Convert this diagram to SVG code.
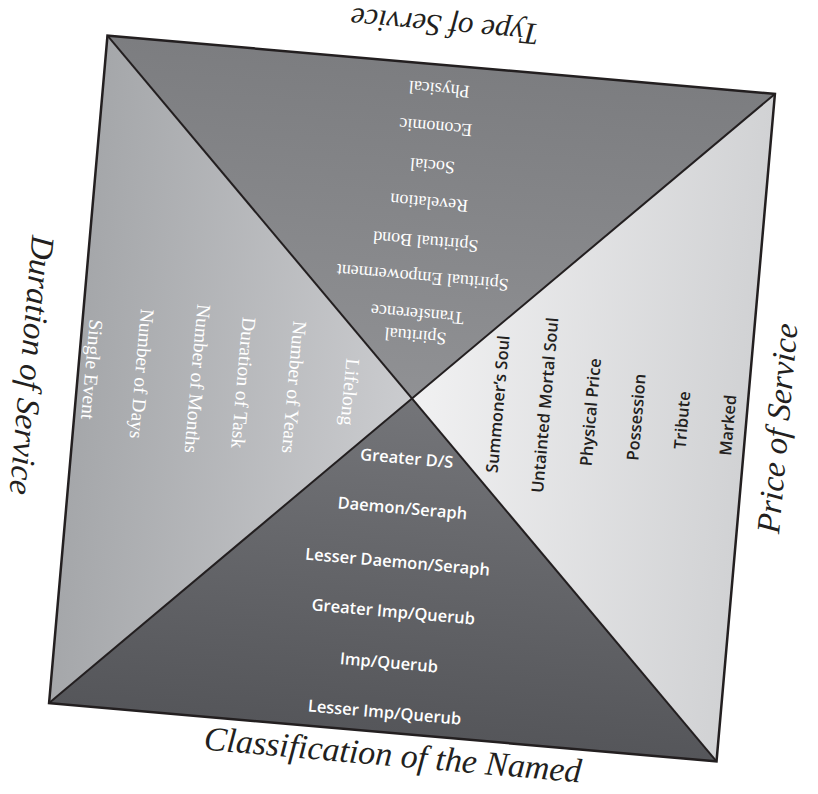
<svg xmlns="http://www.w3.org/2000/svg" width="818" height="794" viewBox="0 0 818 794">
<defs>
<linearGradient id="gTop" gradientUnits="userSpaceOnUse" x1="0" y1="-335" x2="0" y2="0">
<stop offset="0" stop-color="#7c7d80"/><stop offset="1" stop-color="#909194"/>
</linearGradient>
<linearGradient id="gLeft" gradientUnits="userSpaceOnUse" x1="-335" y1="0" x2="0" y2="0">
<stop offset="0" stop-color="#a5a7aa"/><stop offset="1" stop-color="#cbcccf"/>
</linearGradient>
<linearGradient id="gRight" gradientUnits="userSpaceOnUse" x1="335" y1="0" x2="0" y2="0">
<stop offset="0" stop-color="#d1d2d4"/><stop offset="1" stop-color="#f1f1f2"/>
</linearGradient>
<linearGradient id="gBottom" gradientUnits="userSpaceOnUse" x1="0" y1="335" x2="0" y2="0">
<stop offset="0" stop-color="#55565a"/><stop offset="1" stop-color="#747579"/>
</linearGradient>
</defs>
<style>
.serifW{font-family:"Liberation Serif","DejaVu Serif",serif;font-size:18px;fill:#ffffff;text-anchor:middle;}
.serifL{font-size:19.5px;}
.sansD{font-family:"Open Sans","Noto Sans",sans-serif;font-weight:600;font-size:16.5px;fill:#231f20;text-anchor:middle;}
.sansW{font-family:"Open Sans","Noto Sans",sans-serif;font-weight:600;font-size:16.5px;fill:#ffffff;text-anchor:middle;}
.title{font-family:"Liberation Serif","DejaVu Serif",serif;font-style:italic;font-size:33px;fill:#231f20;text-anchor:middle;}
.edge{fill:none;stroke:#231f20;stroke-width:2.5;stroke-linejoin:miter;}
.diag{fill:none;stroke:#231f20;stroke-width:2;}
</style>
<g transform="translate(412,398.5) rotate(5)">
<g id="type-of-service">
<polygon points="-335,-335 335,-335 0,0" fill="url(#gTop)"/>
<text class="title" transform="translate(0,-373) rotate(180)" dy="0.35em" style="font-size:31px">Type of Service</text>
<text class="serifW" transform="translate(0,-310) rotate(180)" dy="0.35em">Physical</text>
<text class="serifW" transform="translate(0,-272) rotate(180)" dy="0.35em">Economic</text>
<text class="serifW" transform="translate(0,-233) rotate(180)" dy="0.35em">Social</text>
<text class="serifW" transform="translate(0,-196) rotate(180)" dy="0.35em">Revelation</text>
<text class="serifW" transform="translate(0,-157) rotate(180)" dy="0.35em">Spiritual Bond</text>
<text class="serifW" transform="translate(0,-121) rotate(180)" dy="0.35em">Spiritual Empowerment</text>
<text class="serifW" transform="translate(-2,-84) rotate(180)" dy="0.35em">Transference</text>
<text class="serifW" transform="translate(-2,-62) rotate(180)" dy="0.35em">Spiritual</text>
</g>
<g id="duration-of-service">
<polygon points="-335,-335 0,0 -335,335" fill="url(#gLeft)"/>
<text class="title" transform="translate(-381,0) rotate(90)" dy="0.35em">Duration of Service</text>
<text class="serifW serifL" transform="translate(-62,-1) rotate(90)" dy="0.35em">Lifelong</text>
<text class="serifW serifL" transform="translate(-118,-1) rotate(90)" dy="0.35em">Number of Years</text>
<text class="serifW serifL" transform="translate(-169,-1) rotate(90)" dy="0.35em">Duration of Task</text>
<text class="serifW serifL" transform="translate(-215,-1) rotate(90)" dy="0.35em">Number of Months</text>
<text class="serifW serifL" transform="translate(-271,-1) rotate(90)" dy="0.35em">Number of Days</text>
<text class="serifW serifL" transform="translate(-321,-1) rotate(90)" dy="0.35em">Single Event</text>
</g>
<g id="price-of-service">
<polygon points="335,-335 335,335 0,0" fill="url(#gRight)"/>
<text class="title" transform="translate(366,-2) rotate(-90)" dy="0.35em">Price of Service</text>
<text class="sansD" transform="translate(86,-2) rotate(-90)" dy="0.35em">Summoner’s Soul</text>
<text class="sansD" transform="translate(133,-5) rotate(-90)" dy="0.35em">Untainted Mortal Soul</text>
<text class="sansD" transform="translate(179,-2) rotate(-90)" dy="0.35em">Physical Price</text>
<text class="sansD" transform="translate(225,-1) rotate(-90)" dy="0.35em">Possession</text>
<text class="sansD" transform="translate(271,-2) rotate(-90)" dy="0.35em">Tribute</text>
<text class="sansD" transform="translate(317,-1) rotate(-90)" dy="0.35em">Marked</text>
</g>
<g id="classification-of-the-named">
<polygon points="-335,335 0,0 335,335" fill="url(#gBottom)"/>
<text class="title" x="12" y="356" dy="0.35em" style="font-size:34px">Classification of the Named</text>
<text class="sansW" x="0" y="60" dy="0.35em">Greater D/S</text>
<text class="sansW" x="0" y="110" dy="0.35em">Daemon/Seraph</text>
<text class="sansW" x="0" y="164" dy="0.35em">Lesser Daemon/Seraph</text>
<text class="sansW" x="0" y="214" dy="0.35em">Greater Imp/Querub</text>
<text class="sansW" x="0" y="265" dy="0.35em">Imp/Querub</text>
<text class="sansW" x="0" y="315" dy="0.35em">Lesser Imp/Querub</text>
</g>
<g id="connectors">
<line class="diag" x1="-335" y1="-335" x2="335" y2="335"/>
<line class="diag" x1="335" y1="-335" x2="-335" y2="335"/>
<rect class="edge" x="-335" y="-335" width="670" height="670"/>
</g>
</g>
</svg>
